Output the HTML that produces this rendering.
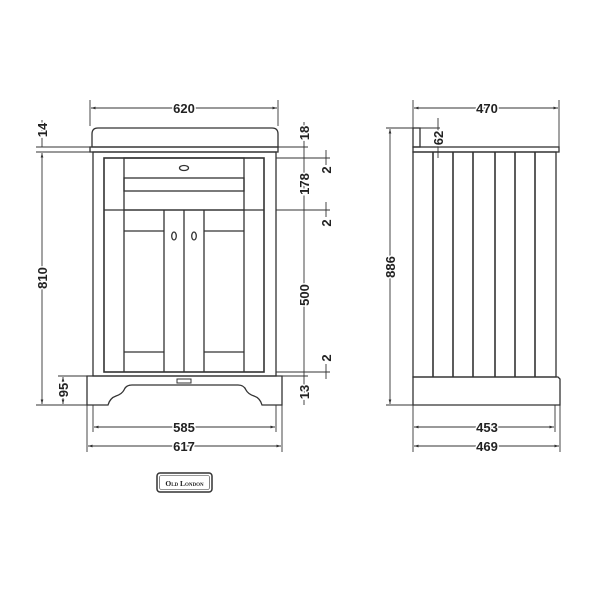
<!DOCTYPE html>
<html><head><style>
html,body{margin:0;padding:0;background:#fff;}
svg{display:block;}
text{font-family:"Liberation Sans",sans-serif;font-weight:bold;font-size:13px;fill:#222;stroke:#fff;stroke-width:3px;paint-order:stroke;}
</style></head><body>
<svg width="600" height="600" viewBox="0 0 600 600" xmlns="http://www.w3.org/2000/svg">
<defs>
<marker id="a" viewBox="0 0 10 10" refX="10" refY="5" markerWidth="5" markerHeight="5" orient="auto-start-reverse"><path d="M0,2 L10,5 L0,8z" fill="#333"/></marker>
</defs>
<rect width="600" height="600" fill="#fff"/>
<g stroke="#333" stroke-width="1.3" fill="none">
<path d="M92,147 L92,134 Q92,128 98,128 L272,128 Q278,128 278,134 L278,147 Z"/>
<rect x="90" y="147" width="188" height="5"/>
<rect x="93" y="152" width="183" height="224"/>
<rect x="104" y="158" width="160" height="214" stroke-width="1.6"/>
<line x1="104" y1="210" x2="264" y2="210"/>
<rect x="124" y="158" width="120" height="52"/>
<rect x="124" y="178" width="120" height="13"/>
<ellipse cx="184" cy="168" rx="4.5" ry="2.5"/>
<line x1="124" y1="210" x2="124" y2="372"/>
<line x1="244" y1="210" x2="244" y2="372"/>
<line x1="164" y1="210" x2="164" y2="372"/>
<line x1="184" y1="210" x2="184" y2="372"/>
<line x1="204" y1="210" x2="204" y2="372"/>
<line x1="124" y1="231" x2="164" y2="231"/>
<line x1="124" y1="352" x2="164" y2="352"/>
<line x1="204" y1="231" x2="244" y2="231"/>
<line x1="204" y1="352" x2="244" y2="352"/>
<ellipse cx="174" cy="236" rx="2.3" ry="4"/>
<ellipse cx="194" cy="236" rx="2.3" ry="4"/>
<path d="M87,376 L282,376 L282,405 L262,405 Q260,398 254,396 Q248,394 246,390 Q244,385 238,385 L132,385 Q126,385 124,390 Q122,394 116,396 Q110,398 108,405 L87,405 Z"/>
<rect x="177" y="379" width="14" height="4" stroke-width="1"/>
</g>
<g stroke="#333" stroke-width="0.9" fill="none">
<line x1="90" y1="100" x2="90" y2="126"/><line x1="278" y1="100" x2="278" y2="126"/>
<line x1="91" y1="108" x2="277" y2="108" marker-start="url(#a)" marker-end="url(#a)"/>
<line x1="36" y1="147" x2="90" y2="147"/><line x1="36" y1="152" x2="92" y2="152"/>
<line x1="36" y1="405" x2="87" y2="405"/><line x1="58" y1="376" x2="87" y2="376"/>
<line x1="42" y1="120" x2="42" y2="147"/>
<line x1="42" y1="153" x2="42" y2="404" marker-start="url(#a)" marker-end="url(#a)"/>
<line x1="63" y1="377" x2="63" y2="404" marker-start="url(#a)" marker-end="url(#a)"/>
<line x1="278" y1="147" x2="308" y2="147"/>
<line x1="276" y1="158" x2="330" y2="158"/>
<line x1="276" y1="210" x2="330" y2="210"/>
<line x1="276" y1="372" x2="330" y2="372"/>
<line x1="282" y1="376" x2="308" y2="376"/>
<line x1="304" y1="122" x2="304" y2="405"/>
<line x1="326" y1="150" x2="326" y2="165"/>
<line x1="326" y1="202" x2="326" y2="217"/>
<line x1="326" y1="364" x2="326" y2="379"/>
<line x1="87" y1="405" x2="87" y2="452"/><line x1="282" y1="405" x2="282" y2="452"/>
<line x1="93" y1="405" x2="93" y2="432"/><line x1="276" y1="405" x2="276" y2="432"/>
<line x1="94" y1="427" x2="275" y2="427" marker-start="url(#a)" marker-end="url(#a)"/>
<line x1="88" y1="446" x2="281" y2="446" marker-start="url(#a)" marker-end="url(#a)"/>
</g>
<g stroke="#333" stroke-width="1.3" fill="none">
<rect x="413" y="128" width="7" height="19"/>
<rect x="413" y="147" width="146" height="5"/>
<rect x="413" y="152" width="143" height="225"/>
<line x1="433" y1="152" x2="433" y2="377" stroke-width="1.6"/>
<line x1="453" y1="152" x2="453" y2="377" stroke-width="1.6"/>
<line x1="473" y1="152" x2="473" y2="377" stroke-width="1.6"/>
<line x1="495" y1="152" x2="495" y2="377" stroke-width="1.6"/>
<line x1="515" y1="152" x2="515" y2="377" stroke-width="1.6"/>
<line x1="535" y1="152" x2="535" y2="377" stroke-width="1.6"/>
<path d="M413,377 L558,377 L560,379 L560,405 L413,405 Z"/>
</g>
<g stroke="#333" stroke-width="0.9" fill="none">
<line x1="413" y1="100" x2="413" y2="128"/><line x1="559" y1="100" x2="559" y2="147"/>
<line x1="414" y1="108" x2="558" y2="108" marker-start="url(#a)" marker-end="url(#a)"/>
<line x1="386" y1="128" x2="413" y2="128"/><line x1="386" y1="405" x2="413" y2="405"/>
<line x1="390" y1="129" x2="390" y2="404" marker-start="url(#a)" marker-end="url(#a)"/>
<line x1="420" y1="128" x2="440" y2="128"/>
<line x1="438" y1="118" x2="438" y2="158"/>
<line x1="413" y1="405" x2="413" y2="452"/><line x1="560" y1="405" x2="560" y2="452"/><line x1="555" y1="405" x2="555" y2="432"/>
<line x1="414" y1="427" x2="554" y2="427" marker-start="url(#a)" marker-end="url(#a)"/>
<line x1="414" y1="446" x2="559" y2="446" marker-start="url(#a)" marker-end="url(#a)"/>
</g>
<g>
<text x="184" y="113" text-anchor="middle">620</text>
<text x="487" y="113" text-anchor="middle">470</text>
<text x="184" y="432" text-anchor="middle">585</text>
<text x="184" y="451" text-anchor="middle">617</text>
<text x="487" y="432" text-anchor="middle">453</text>
<text x="487" y="451" text-anchor="middle">469</text>
<text transform="translate(47,130) rotate(-90)" text-anchor="middle">14</text>
<text transform="translate(47,278) rotate(-90)" text-anchor="middle">810</text>
<text transform="translate(68,390) rotate(-90)" text-anchor="middle">95</text>
<text transform="translate(309,133) rotate(-90)" text-anchor="middle">18</text>
<text transform="translate(309,184) rotate(-90)" text-anchor="middle">178</text>
<text transform="translate(309,295) rotate(-90)" text-anchor="middle">500</text>
<text transform="translate(309,392) rotate(-90)" text-anchor="middle">13</text>
<text transform="translate(331,170) rotate(-90)" text-anchor="middle">2</text>
<text transform="translate(331,223) rotate(-90)" text-anchor="middle">2</text>
<text transform="translate(331,358) rotate(-90)" text-anchor="middle">2</text>
<text transform="translate(395,267) rotate(-90)" text-anchor="middle">886</text>
<text transform="translate(443,138) rotate(-90)" text-anchor="middle">62</text>
</g>
<rect x="157" y="473" width="55" height="19" rx="3" fill="none" stroke="#333" stroke-width="1.5"/>
<rect x="159.5" y="475.5" width="50" height="14" rx="2" fill="none" stroke="#333" stroke-width="0.6"/>
<text x="184.5" y="486" text-anchor="middle" style="font-family:'Liberation Serif',serif;font-size:7.5px;font-weight:bold;font-variant:small-caps;stroke:none">Old London</text>
</svg>
</body></html>
